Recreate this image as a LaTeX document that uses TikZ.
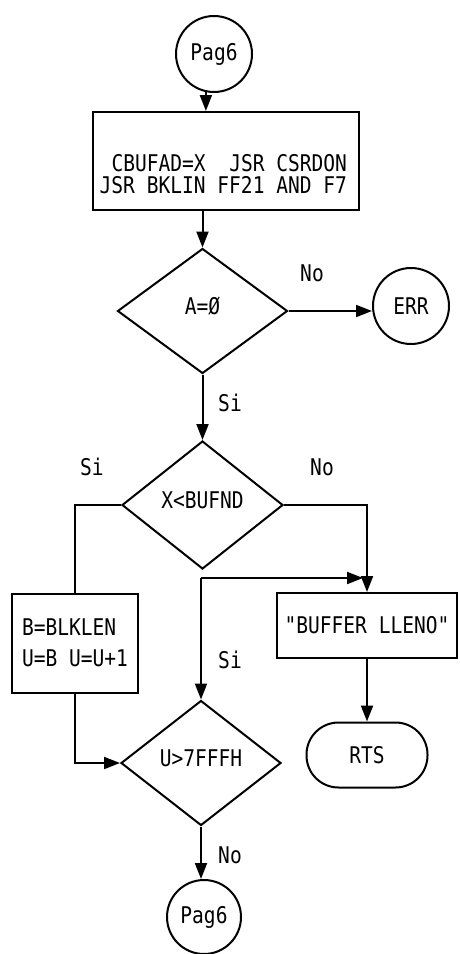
\documentclass[tikz,border=0pt]{standalone}
\usepackage{fontspec}
\setmonofont{DejaVu Sans Mono}[FakeStretch=0.85]
\usetikzlibrary{shapes.geometric,arrows.meta}
\newcommand\plotfont[1]{\ttfamily\fontsize{23pt}{#1}\selectfont\fontdimen2\font=11.8pt\fontdimen3\font=0pt\fontdimen4\font=0pt}
\begin{document}
\begin{tikzpicture}[x=1pt,y=-1pt,
  every node/.style={font=\plotfont{22pt}, line width=2pt, inner sep=0pt},
  conn/.style={line width=2pt},
  arr/.style={conn,-{Triangle[length=16pt,width=12pt]}},
  term/.style={draw,circle,minimum size=76pt},
  proc/.style={draw,rectangle},
  dec/.style={draw,diamond,text height=16pt,text depth=9pt}]
\useasboundingbox (0,0) rectangle (459,954);
% nodes
\node[term] (c1) at (214,54) {Pag6};
\node[proc,minimum width=266pt,minimum height=98pt] (box) at (226,161) {};
\node[anchor=east,align=right] (boxtxt) at (348,174) {CBUFAD=X\ \ JSR CSRDON\\JSR BKLIN FF21 AND F7};
\node[dec,minimum width=170pt,minimum height=125pt] (a) at (202.5,311) {A=Ø};
\node[term] (err) at (411,306) {ERR};
\node[dec,minimum width=161pt,minimum height=128pt] (x) at (202.5,505) {X<BUFND};
\node[proc,minimum width=126pt,minimum height=99pt,align=left,font=\plotfont{31pt}] (lb) at (75,643) {B=BLKLEN\\U=B U=U+1};
\node[proc,minimum width=180pt,minimum height=65pt] (buf) at (367,625.5) {"BUFFER LLENO"};
\node[draw,rounded corners=32pt,minimum width=121pt,minimum height=65pt] (rts) at (367,755) {RTS};
\node[dec,minimum width=160pt,minimum height=125pt] (u) at (201,763) {U>7FFFH};
\node[term,minimum size=74pt] (c2) at (204,917) {Pag6};
\coordinate (j) at (201,578);
% labels
\node (l1) at (312,273) {No};
\node (l2) at (230,403) {Si};
\node (l3) at (92,467) {Si};
\node (l4) at (322,467) {No};
\node (l5) at (230,660) {Si};
\node (l6) at (230,855) {No};
% connectors
\draw[arr] (c1.-102) -- (c1.-102 |- box.north);
\draw[arr] (box.south -| a.north) -- (a.north);
\draw[arr] (a.east) -- (a.east -| err.west);
\draw[arr] (a.south) -- (x.north);
\draw[conn] (x.west) -| (lb.north);
\draw[arr] (x.east) -| (buf.north);
\draw[arr] (lb.south) |- (u.west);
\draw[arr] (j) -- (u.north);
\draw[arr,shorten >=4pt] (j) -- (j -| buf.north);
\draw[arr] (buf.south) -- (rts.north);
\draw[arr] (u.south) -- (u.south |- c2.north);
\end{tikzpicture}
\end{document}
